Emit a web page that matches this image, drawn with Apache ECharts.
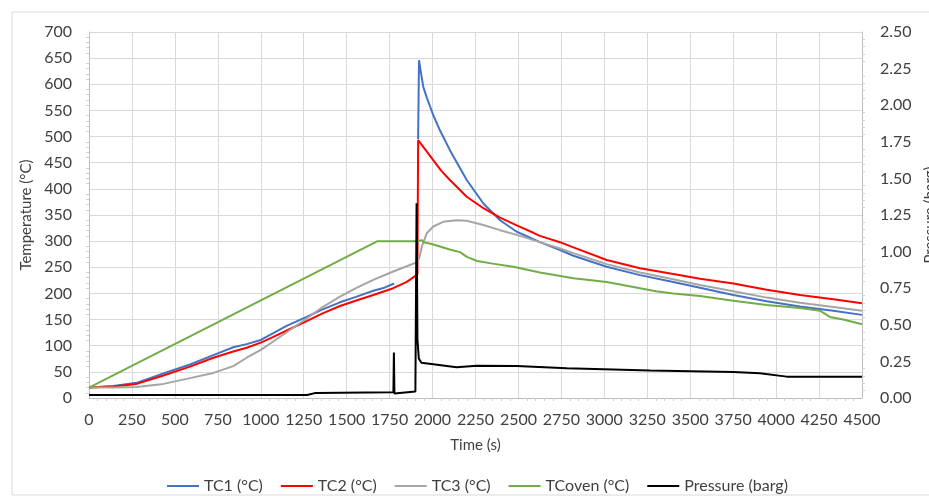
<!DOCTYPE html>
<html>
<head>
<meta charset="utf-8">
<script src="https://cdn.jsdelivr.net/npm/echarts@6/dist/echarts.min.js"></script>
<style>
html,body{margin:0;padding:0;background:#fff;}
#chart{width:929px;height:499px;}
</style>
</head>
<body>
<div id="chart"></div>
<script>
// ---- Data ----
const seriesNames = ['TC1 (°C)', 'TC2 (°C)', 'TC3 (°C)', 'TCoven (°C)', 'Pressure (barg)'];

const tc1Time = [0,142,277,433,588,724,840,918,1000,1073,1150,1267,1350,1461,1550,1655,1720,1776,1850,1916,1921,1936,1946,1966,1985,2004,2043,2101,2199,2296,2393,2490,2587,2625,2742,2820,3014,3208,3401,3557,3751,3945,4139,4333,4500];
const tc1Vals = [20,23,29,47,64,82,97,103,111,124,138,155,168,183,193,205,211,219,null,495,646,615,595,575,558,541,512,474,417,372,340,318,304,298,283,272,251,235,222,211,197,185,175,167,159];

const tc2Time = [0,142,277,433,588,724,840,918,1000,1073,1170,1267,1360,1461,1578,1655,1771,1850,1898,1912,1916,1935,2004,2050,2101,2199,2296,2393,2490,2587,2625,2742,2820,3014,3208,3401,3557,3751,3945,4139,4333,4500];
const tc2Vals = [20,22,27,43,60,77,89,96,106,117,132,147,162,176,189,197,210,222,233,237,493,485,455,435,417,385,363,345,330,316,310,298,288,264,248,237,228,219,207,197,189,181];

const tc3Time = [0,142,277,433,588,724,840,918,1000,1073,1170,1267,1360,1461,1560,1655,1771,1850,1912,1923,1940,1966,2004,2062,2140,2199,2296,2393,2490,2587,2742,2820,3014,3208,3401,3557,3751,3945,4139,4333,4500];
const tc3Vals = [20,20,21,27,38,48,61,77,92,108,130,152,174,194,211,226,242,252,260,268,292,315,328,337,340,339,331,321,312,302,286,277,256,240,227,216,204,192,182,174,167];

const ovenTime = [0,1680,1920,1935,1950,2000,2100,2160,2200,2260,2350,2470,2625,2820,3014,3208,3300,3401,3557,3751,3945,4139,4255,4313,4391,4500];
const ovenVals = [20,300,300,302,298,294,284,279,270,262,257,251,240,229,222,210,204,200,195,186,178,172,167,155,150,141];

const presTime = [0,1270,1320,1772,1775,1778,1785,1900,1907,1912,1920,1935,2004,2140,2257,2490,2781,3266,3751,3906,4061,4500];
const presVals = [0.02,0.02,0.035,0.04,0.31,0.03,0.04,0.045,1.33,0.4,0.27,0.24,0.23,0.21,0.221,0.219,0.203,0.187,0.178,0.169,0.146,0.146];

const xTicks = {min: 0, max: 4500, step: 250};
const tempTicks = {min: 0, max: 700, step: 50};
const presTicks = {min: 0, max: 2.5, step: 0.25};

// ---- Build ----
function zip(t, v) { return t.map((x, i) => [x, v[i]]); }
const colors = ['#4472C4', '#FF0000', '#A5A5A5', '#70AD47', '#000000'];
const font = 'Lato, "Noto Sans", sans-serif';
const txt = '#404040';

const chart = echarts.init(document.getElementById('chart'), null, {renderer: 'canvas'});
function mkSeries(i, data, yIdx) {
  return {
    name: seriesNames[i], type: 'line', data: data, yAxisIndex: yIdx,
    symbol: 'none', showSymbol: false, connectNulls: false,
    lineStyle: {color: colors[i], width: 2}, itemStyle: {color: colors[i]},
    animation: false
  };
}
chart.setOption({
  animation: false,
  backgroundColor: '#ffffff',
  graphic: [{type: 'rect', shape: {x: 12, y: 12, width: 960, height: 483}, style: {fill: 'none', stroke: '#d9d9d9', lineWidth: 1}, silent: true}],
  grid: {left: 89, right: 67, top: 32, bottom: 101, containLabel: false, outerBoundsMode: 'none'},
  legend: {
    left: 162, top: 473, itemWidth: 32, itemHeight: 2, itemGap: 18, icon: 'rect',
    textStyle: {fontFamily: font, fontSize: 16, color: txt},
    data: seriesNames
  },
  xAxis: {
    type: 'value', min: xTicks.min, max: xTicks.max, interval: xTicks.step,
    name: 'Time (s)', nameLocation: 'middle', nameGap: 40,
    nameTextStyle: {fontFamily: font, fontSize: 15, color: txt},
    axisLine: {lineStyle: {color: '#bfbfbf'}},
    axisTick: {show: false},
    minorTick: {show: true, splitNumber: 5, length: 3, lineStyle: {color: '#d0d0d0'}},
    axisLabel: {fontFamily: font, fontSize: 16, color: txt, margin: 14, formatter: v => String(v)},
    splitLine: {show: true, lineStyle: {color: '#d9d9d9', width: 1}}
  },
  yAxis: [{
    type: 'value', min: tempTicks.min, max: tempTicks.max, interval: tempTicks.step,
    name: 'Temperature (°C)', nameLocation: 'middle', nameGap: 48, nameRotate: 90,
    nameTextStyle: {fontFamily: font, fontSize: 15, color: txt},
    axisLine: {show: true, lineStyle: {color: '#bfbfbf'}},
    axisTick: {show: false},
    minorTick: {show: true, splitNumber: 5, length: 3, lineStyle: {color: '#d0d0d0'}},
    axisLabel: {fontFamily: font, fontSize: 16, color: txt, margin: 17, formatter: v => String(v)},
    splitLine: {show: true, lineStyle: {color: '#d9d9d9', width: 1}}
  }, {
    type: 'value', position: 'right', min: presTicks.min, max: presTicks.max, interval: presTicks.step,
    name: 'Pressure (barg)', nameLocation: 'middle', nameGap: 56, nameRotate: 90,
    nameTextStyle: {fontFamily: font, fontSize: 15, color: txt},
    axisLine: {show: true, lineStyle: {color: '#bfbfbf'}},
    axisTick: {show: false},
    minorTick: {show: true, splitNumber: 5, length: 3, lineStyle: {color: '#d0d0d0'}},
    axisLabel: {fontFamily: font, fontSize: 16, color: txt, margin: 18, formatter: v => v.toFixed(2)},
    splitLine: {show: false}
  }],
  series: [
    mkSeries(0, zip(tc1Time, tc1Vals), 0),
    mkSeries(1, zip(tc2Time, tc2Vals), 0),
    mkSeries(2, zip(tc3Time, tc3Vals), 0),
    mkSeries(3, zip(ovenTime, ovenVals), 0),
    mkSeries(4, zip(presTime, presVals), 1)
  ]
});
</script>
</body>
</html>
